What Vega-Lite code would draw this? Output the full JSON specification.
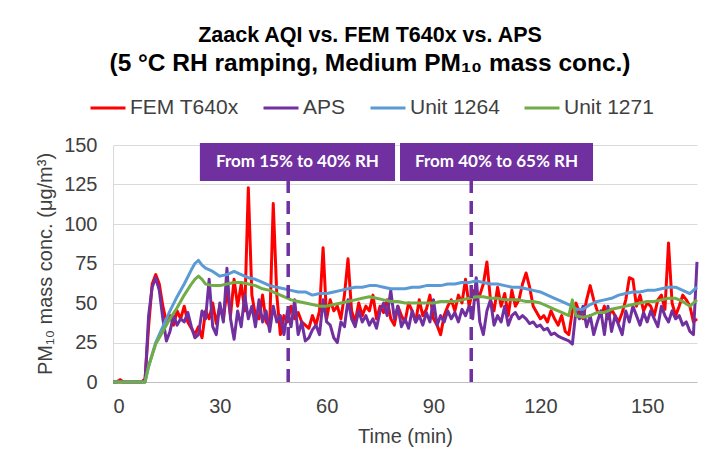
{
  "$schema": "https://vega.github.io/schema/vega-lite/v6.json",
  "autosize": {"type": "none"},
  "width": 584,
  "height": 237,
  "padding": {"left": 113, "top": 145, "right": 27, "bottom": 88},
  "background": "white",
  "title": {
    "text": "Zaack AQI vs. FEM T640x vs. APS",
    "subtitle": "(5 °C RH ramping, Medium PM₁₀ mass conc.)",
    "font": "Liberation Sans", "fontSize": 21.5, "fontWeight": "bold",
    "subtitleFont": "Liberation Sans", "subtitleFontSize": 24.5, "subtitleFontWeight": "bold", "subtitleColor": "#000000", "subtitlePadding": 5,
    "color": "#000000", "anchor": "middle", "dx": -35, "offset": 14
  },
  "config": {
    "view": {"stroke": null},
    "axis": {
      "labelFont": "Liberation Sans", "titleFont": "Liberation Sans",
      "labelFontSize": 20, "titleFontSize": 20, "titleFontWeight": "normal",
      "labelColor": "#404040", "titleColor": "#404040",
      "gridColor": "#D9D9D9", "domainColor": "#BFBFBF", "ticks": false, "labelOverlap": false
    },
    "legend": {
      "labelFont": "Liberation Sans", "labelFontSize": 21, "labelColor": "#404040"
    }
  },
  "datasets": {
    "reference": [
      {"time":0,"FEM T640x":0,"APS":0},{"time":1,"FEM T640x":0,"APS":0},{"time":2,"FEM T640x":1.5,"APS":0},{"time":3,"FEM T640x":0,"APS":0},{"time":4,"FEM T640x":0,"APS":0},{"time":5,"FEM T640x":0,"APS":0},{"time":6,"FEM T640x":0,"APS":0},{"time":7,"FEM T640x":0,"APS":0},{"time":8,"FEM T640x":0,"APS":0},{"time":9,"FEM T640x":2,"APS":0},
      {"time":10,"FEM T640x":35,"APS":42},{"time":11,"FEM T640x":62,"APS":60},{"time":12,"FEM T640x":68,"APS":66},{"time":13,"FEM T640x":62,"APS":58},{"time":14,"FEM T640x":48,"APS":40},{"time":15,"FEM T640x":38,"APS":26},{"time":16,"FEM T640x":42,"APS":32},{"time":17,"FEM T640x":36,"APS":42},{"time":18,"FEM T640x":45,"APS":36},{"time":19,"FEM T640x":40,"APS":40},
      {"time":20,"FEM T640x":48,"APS":38},{"time":21,"FEM T640x":38,"APS":44},{"time":22,"FEM T640x":34,"APS":35},{"time":23,"FEM T640x":30,"APS":28},{"time":24,"FEM T640x":35,"APS":30},{"time":25,"FEM T640x":28,"APS":45},{"time":26,"FEM T640x":45,"APS":40},{"time":27,"FEM T640x":40,"APS":65},{"time":28,"FEM T640x":50,"APS":35},{"time":29,"FEM T640x":37,"APS":30},
      {"time":30,"FEM T640x":48,"APS":50},{"time":31,"FEM T640x":40,"APS":38},{"time":32,"FEM T640x":58,"APS":72},{"time":33,"FEM T640x":42,"APS":40},{"time":34,"FEM T640x":65,"APS":27},{"time":35,"FEM T640x":48,"APS":45},{"time":36,"FEM T640x":62,"APS":35},{"time":37,"FEM T640x":45,"APS":55},{"time":38,"FEM T640x":123,"APS":40},{"time":39,"FEM T640x":55,"APS":48},
      {"time":40,"FEM T640x":42,"APS":35},{"time":41,"FEM T640x":40,"APS":52},{"time":42,"FEM T640x":55,"APS":38},{"time":43,"FEM T640x":38,"APS":45},{"time":44,"FEM T640x":35,"APS":32},{"time":45,"FEM T640x":113,"APS":48},{"time":46,"FEM T640x":55,"APS":38},{"time":47,"FEM T640x":30,"APS":42},{"time":48,"FEM T640x":42,"APS":30},{"time":49,"FEM T640x":38,"APS":45},
      {"time":50,"FEM T640x":48,"APS":35},{"time":51,"FEM T640x":40,"APS":52},{"time":52,"FEM T640x":44,"APS":30},{"time":53,"FEM T640x":38,"APS":38},{"time":54,"FEM T640x":36,"APS":26},{"time":55,"FEM T640x":34,"APS":28},{"time":56,"FEM T640x":42,"APS":33},{"time":57,"FEM T640x":36,"APS":36},{"time":58,"FEM T640x":45,"APS":30},{"time":59,"FEM T640x":85,"APS":52},
      {"time":60,"FEM T640x":40,"APS":38},{"time":61,"FEM T640x":52,"APS":36},{"time":62,"FEM T640x":45,"APS":28},{"time":63,"FEM T640x":48,"APS":25},{"time":64,"FEM T640x":40,"APS":38},{"time":65,"FEM T640x":55,"APS":35},{"time":66,"FEM T640x":78,"APS":52},{"time":67,"FEM T640x":45,"APS":40},{"time":68,"FEM T640x":38,"APS":35},{"time":69,"FEM T640x":50,"APS":45},
      {"time":70,"FEM T640x":42,"APS":38},{"time":71,"FEM T640x":48,"APS":42},{"time":72,"FEM T640x":45,"APS":36},{"time":73,"FEM T640x":55,"APS":40},{"time":74,"FEM T640x":40,"APS":34},{"time":75,"FEM T640x":48,"APS":45},{"time":76,"FEM T640x":44,"APS":50},{"time":77,"FEM T640x":52,"APS":42},{"time":78,"FEM T640x":40,"APS":58},{"time":79,"FEM T640x":36,"APS":40},
      {"time":80,"FEM T640x":48,"APS":48},{"time":81,"FEM T640x":42,"APS":35},{"time":82,"FEM T640x":38,"APS":40},{"time":83,"FEM T640x":50,"APS":34},{"time":84,"FEM T640x":45,"APS":45},{"time":85,"FEM T640x":38,"APS":38},{"time":86,"FEM T640x":52,"APS":42},{"time":87,"FEM T640x":42,"APS":36},{"time":88,"FEM T640x":46,"APS":44},{"time":89,"FEM T640x":55,"APS":38},
      {"time":90,"FEM T640x":40,"APS":52},{"time":91,"FEM T640x":36,"APS":36},{"time":92,"FEM T640x":30,"APS":42},{"time":93,"FEM T640x":42,"APS":38},{"time":94,"FEM T640x":48,"APS":45},{"time":95,"FEM T640x":52,"APS":40},{"time":96,"FEM T640x":45,"APS":44},{"time":97,"FEM T640x":55,"APS":38},{"time":98,"FEM T640x":50,"APS":46},{"time":99,"FEM T640x":65,"APS":42},
      {"time":100,"FEM T640x":48,"APS":48},{"time":101,"FEM T640x":58,"APS":40},{"time":102,"FEM T640x":52,"APS":66},{"time":103,"FEM T640x":55,"APS":38},{"time":104,"FEM T640x":62,"APS":30},{"time":105,"FEM T640x":76,"APS":45},{"time":106,"FEM T640x":52,"APS":52},{"time":107,"FEM T640x":45,"APS":36},{"time":108,"FEM T640x":60,"APS":42},{"time":109,"FEM T640x":48,"APS":38},
      {"time":110,"FEM T640x":56,"APS":48},{"time":111,"FEM T640x":42,"APS":36},{"time":112,"FEM T640x":58,"APS":42},{"time":113,"FEM T640x":48,"APS":44},{"time":114,"FEM T640x":52,"APS":40},{"time":115,"FEM T640x":62,"APS":42},{"time":116,"FEM T640x":69,"APS":40},{"time":117,"FEM T640x":60,"APS":37},{"time":118,"FEM T640x":48,"APS":38},{"time":119,"FEM T640x":44,"APS":35},
      {"time":120,"FEM T640x":40,"APS":36},{"time":121,"FEM T640x":42,"APS":33},{"time":122,"FEM T640x":38,"APS":34},{"time":123,"FEM T640x":45,"APS":30},{"time":124,"FEM T640x":40,"APS":31},{"time":125,"FEM T640x":36,"APS":29},{"time":126,"FEM T640x":42,"APS":28},{"time":127,"FEM T640x":32,"APS":27},{"time":128,"FEM T640x":30,"APS":26},{"time":129,"FEM T640x":45,"APS":24},
      {"time":130,"FEM T640x":50,"APS":45},{"time":131,"FEM T640x":44,"APS":40},{"time":132,"FEM T640x":40,"APS":48},{"time":133,"FEM T640x":52,"APS":35},{"time":134,"FEM T640x":61,"APS":42},{"time":135,"FEM T640x":52,"APS":30},{"time":136,"FEM T640x":45,"APS":38},{"time":137,"FEM T640x":42,"APS":45},{"time":138,"FEM T640x":48,"APS":30},{"time":139,"FEM T640x":40,"APS":48},
      {"time":140,"FEM T640x":46,"APS":32},{"time":141,"FEM T640x":42,"APS":42},{"time":142,"FEM T640x":38,"APS":36},{"time":143,"FEM T640x":44,"APS":30},{"time":144,"FEM T640x":52,"APS":45},{"time":145,"FEM T640x":66,"APS":38},{"time":146,"FEM T640x":65,"APS":48},{"time":147,"FEM T640x":48,"APS":42},{"time":148,"FEM T640x":55,"APS":36},{"time":149,"FEM T640x":45,"APS":44},
      {"time":150,"FEM T640x":50,"APS":38},{"time":151,"FEM T640x":48,"APS":45},{"time":152,"FEM T640x":42,"APS":40},{"time":153,"FEM T640x":52,"APS":35},{"time":154,"FEM T640x":55,"APS":48},{"time":155,"FEM T640x":46,"APS":42},{"time":156,"FEM T640x":88,"APS":38},{"time":157,"FEM T640x":50,"APS":45},{"time":158,"FEM T640x":42,"APS":40},{"time":159,"FEM T640x":48,"APS":42},
      {"time":160,"FEM T640x":55,"APS":36},{"time":161,"FEM T640x":52,"APS":38},{"time":162,"FEM T640x":48,"APS":32},{"time":163,"FEM T640x":38,"APS":30},{"time":164,"FEM T640x":40,"APS":76}
    ],
    "units": [
      {"time":0,"Unit 1264":0,"Unit 1271":0},{"time":9,"Unit 1264":0,"Unit 1271":0},{"time":10,"Unit 1264":10,"Unit 1271":10},{"time":12,"Unit 1264":25,"Unit 1271":24},{"time":14,"Unit 1264":35,"Unit 1271":32},{"time":16,"Unit 1264":45,"Unit 1271":40},{"time":18,"Unit 1264":54,"Unit 1271":47},{"time":20,"Unit 1264":62,"Unit 1271":55},{"time":22,"Unit 1264":71,"Unit 1271":62},{"time":23,"Unit 1264":75,"Unit 1271":65},{"time":24,"Unit 1264":77,"Unit 1271":67},
      {"time":25,"Unit 1264":74,"Unit 1271":65},{"time":26,"Unit 1264":72,"Unit 1271":62},{"time":28,"Unit 1264":70,"Unit 1271":61},{"time":30,"Unit 1264":67,"Unit 1271":61},{"time":32,"Unit 1264":68,"Unit 1271":62},{"time":34,"Unit 1264":70,"Unit 1271":63},{"time":36,"Unit 1264":68,"Unit 1271":63},{"time":38,"Unit 1264":66,"Unit 1271":62},{"time":40,"Unit 1264":65,"Unit 1271":61},
      {"time":42,"Unit 1264":63,"Unit 1271":59},{"time":44,"Unit 1264":61,"Unit 1271":58},{"time":46,"Unit 1264":60,"Unit 1271":56},{"time":48,"Unit 1264":59,"Unit 1271":54},{"time":50,"Unit 1264":58,"Unit 1271":52},{"time":52,"Unit 1264":57,"Unit 1271":51},{"time":54,"Unit 1264":57,"Unit 1271":50},{"time":56,"Unit 1264":55,"Unit 1271":49},{"time":58,"Unit 1264":56,"Unit 1271":48},{"time":60,"Unit 1264":56,"Unit 1271":48},
      {"time":62,"Unit 1264":57,"Unit 1271":49},{"time":64,"Unit 1264":58,"Unit 1271":50},{"time":66,"Unit 1264":59,"Unit 1271":51},{"time":68,"Unit 1264":60,"Unit 1271":52},{"time":70,"Unit 1264":60,"Unit 1271":53},{"time":72,"Unit 1264":61,"Unit 1271":54},{"time":74,"Unit 1264":61,"Unit 1271":53},{"time":76,"Unit 1264":60,"Unit 1271":52},{"time":78,"Unit 1264":59,"Unit 1271":51},{"time":80,"Unit 1264":59,"Unit 1271":51},
      {"time":82,"Unit 1264":59,"Unit 1271":50},{"time":84,"Unit 1264":60,"Unit 1271":50},{"time":86,"Unit 1264":60,"Unit 1271":50},{"time":88,"Unit 1264":61,"Unit 1271":50},{"time":90,"Unit 1264":61,"Unit 1271":50},{"time":92,"Unit 1264":61,"Unit 1271":51},{"time":94,"Unit 1264":62,"Unit 1271":51},{"time":96,"Unit 1264":62,"Unit 1271":51},{"time":98,"Unit 1264":63,"Unit 1271":52},{"time":100,"Unit 1264":63,"Unit 1271":53},
      {"time":102,"Unit 1264":64,"Unit 1271":54},{"time":104,"Unit 1264":63,"Unit 1271":54},{"time":106,"Unit 1264":62,"Unit 1271":53},{"time":108,"Unit 1264":62,"Unit 1271":53},{"time":110,"Unit 1264":61,"Unit 1271":52},{"time":112,"Unit 1264":60,"Unit 1271":52},{"time":114,"Unit 1264":60,"Unit 1271":52},{"time":116,"Unit 1264":59,"Unit 1271":51},{"time":118,"Unit 1264":58,"Unit 1271":51},{"time":120,"Unit 1264":57,"Unit 1271":50},
      {"time":122,"Unit 1264":55,"Unit 1271":48},{"time":124,"Unit 1264":53,"Unit 1271":46},{"time":126,"Unit 1264":51,"Unit 1271":44},{"time":128,"Unit 1264":49,"Unit 1271":42},{"time":129,"Unit 1264":48,"Unit 1271":52},{"time":130,"Unit 1264":46,"Unit 1271":42},{"time":132,"Unit 1264":46,"Unit 1271":41},{"time":134,"Unit 1264":49,"Unit 1271":42},{"time":136,"Unit 1264":51,"Unit 1271":44},{"time":138,"Unit 1264":52,"Unit 1271":44},
      {"time":140,"Unit 1264":53,"Unit 1271":46},{"time":142,"Unit 1264":55,"Unit 1271":47},{"time":144,"Unit 1264":56,"Unit 1271":48},{"time":146,"Unit 1264":57,"Unit 1271":49},{"time":148,"Unit 1264":57,"Unit 1271":50},{"time":150,"Unit 1264":58,"Unit 1271":51},{"time":152,"Unit 1264":58,"Unit 1271":51},{"time":154,"Unit 1264":59,"Unit 1271":52},{"time":156,"Unit 1264":60,"Unit 1271":53},{"time":158,"Unit 1264":60,"Unit 1271":53},
      {"time":160,"Unit 1264":58,"Unit 1271":51},{"time":162,"Unit 1264":56,"Unit 1271":48},{"time":164,"Unit 1264":60,"Unit 1271":52}
    ],
    "phases": [
      {"label":"From 15% to 40% RH","start":24.4,"end":79.2,"mid":51.8,"change":49.2,"base":0,"boxBottom":127.2,"boxMid":139.3,"boxTop":151.3},
      {"label":"From 40% to 65% RH","start":80.6,"end":134.8,"mid":107.7,"change":100.6,"base":0,"boxBottom":127.2,"boxMid":139.3,"boxTop":151.3}
    ]
  },
  "layer": [
    {
      "data": {"name": "reference"},
      "transform": [{"fold": ["FEM T640x", "APS"], "as": ["series", "value"]}],
      "mark": {"type": "line", "strokeWidth": 3, "strokeJoin": "round"},
      "encoding": {
        "x": {"field": "time", "type": "quantitative", "scale": {"domain": [0, 164], "nice": false},
          "axis": {"values": [0, 30, 60, 90, 120, 150], "title": "Time (min)", "grid": false, "labelPadding": 14, "titlePadding": 10, "domainColor": "#BFBFBF"}},
        "y": {"field": "value", "type": "quantitative", "scale": {"domain": [0, 150], "nice": false},
          "axis": {"values": [0, 25, 50, 75, 100, 125, 150], "title": "PM₁₀ mass conc. (μg/m³)", "labelPadding": 16, "titlePadding": 8, "domainColor": "#D9D9D9", "labelOverlap": false}},
        "color": {"field": "series", "type": "nominal",
          "scale": {"domain": ["FEM T640x", "APS", "Unit 1264", "Unit 1271"], "range": ["#FF0000", "#7030A0", "#5B9BD5", "#70AD47"]},
          "legend": {"title": null, "orient": "none", "legendX": -24, "legendY": -56, "direction": "horizontal",
            "symbolType": "stroke", "symbolStrokeWidth": 3, "symbolSize": 1225, "labelOffset": 3, "columnPadding": 18}}
      }
    },
    {
      "data": {"name": "units"},
      "transform": [{"fold": ["Unit 1264", "Unit 1271"], "as": ["series", "value"]}],
      "mark": {"type": "line", "strokeWidth": 3, "strokeJoin": "round"},
      "encoding": {
        "x": {"field": "time", "type": "quantitative",
          "axis": {"values": [0, 30, 60, 90, 120, 150], "title": "Time (min)", "grid": false, "labelPadding": 14, "titlePadding": 10, "domainColor": "#BFBFBF"}},
        "y": {"field": "value", "type": "quantitative",
          "axis": {"values": [0, 25, 50, 75, 100, 125, 150], "title": "PM₁₀ mass conc. (μg/m³)", "labelPadding": 16, "titlePadding": 8, "domainColor": "#D9D9D9", "labelOverlap": false}},
        "color": {"field": "series", "type": "nominal"}
      }
    },
    {
      "data": {"name": "phases"},
      "mark": {"type": "rule", "color": "#7030A0", "strokeWidth": 3.5, "strokeDash": [13, 8]},
      "encoding": {
        "x": {"field": "change", "type": "quantitative", "axis": {"values": [0, 30, 60, 90, 120, 150], "title": "Time (min)", "grid": false, "labelPadding": 14, "titlePadding": 10, "domainColor": "#BFBFBF"}},
        "y": {"field": "base", "type": "quantitative", "axis": {"values": [0, 25, 50, 75, 100, 125, 150], "title": "PM₁₀ mass conc. (μg/m³)", "labelPadding": 16, "titlePadding": 8, "domainColor": "#D9D9D9", "labelOverlap": false}},
        "y2": {"field": "boxBottom"}
      }
    },
    {
      "data": {"name": "phases"},
      "mark": {"type": "rect", "color": "#7030A0"},
      "encoding": {
        "x": {"field": "start", "type": "quantitative", "axis": {"values": [0, 30, 60, 90, 120, 150], "title": "Time (min)", "grid": false, "labelPadding": 14, "titlePadding": 10, "domainColor": "#BFBFBF"}},
        "x2": {"field": "end"},
        "y": {"field": "boxBottom", "type": "quantitative", "axis": {"values": [0, 25, 50, 75, 100, 125, 150], "title": "PM₁₀ mass conc. (μg/m³)", "labelPadding": 16, "titlePadding": 8, "domainColor": "#D9D9D9", "labelOverlap": false}},
        "y2": {"field": "boxTop"}
      }
    },
    {
      "data": {"name": "phases"},
      "mark": {"type": "text", "color": "white", "font": "Lato", "fontWeight": "bold", "fontSize": 17, "align": "center", "baseline": "middle"},
      "encoding": {
        "x": {"field": "mid", "type": "quantitative", "axis": {"values": [0, 30, 60, 90, 120, 150], "title": "Time (min)", "grid": false, "labelPadding": 14, "titlePadding": 10, "domainColor": "#BFBFBF"}},
        "y": {"field": "boxMid", "type": "quantitative", "axis": {"values": [0, 25, 50, 75, 100, 125, 150], "title": "PM₁₀ mass conc. (μg/m³)", "labelPadding": 16, "titlePadding": 8, "domainColor": "#D9D9D9", "labelOverlap": false}},
        "text": {"field": "label"}
      }
    }
  ]
}
